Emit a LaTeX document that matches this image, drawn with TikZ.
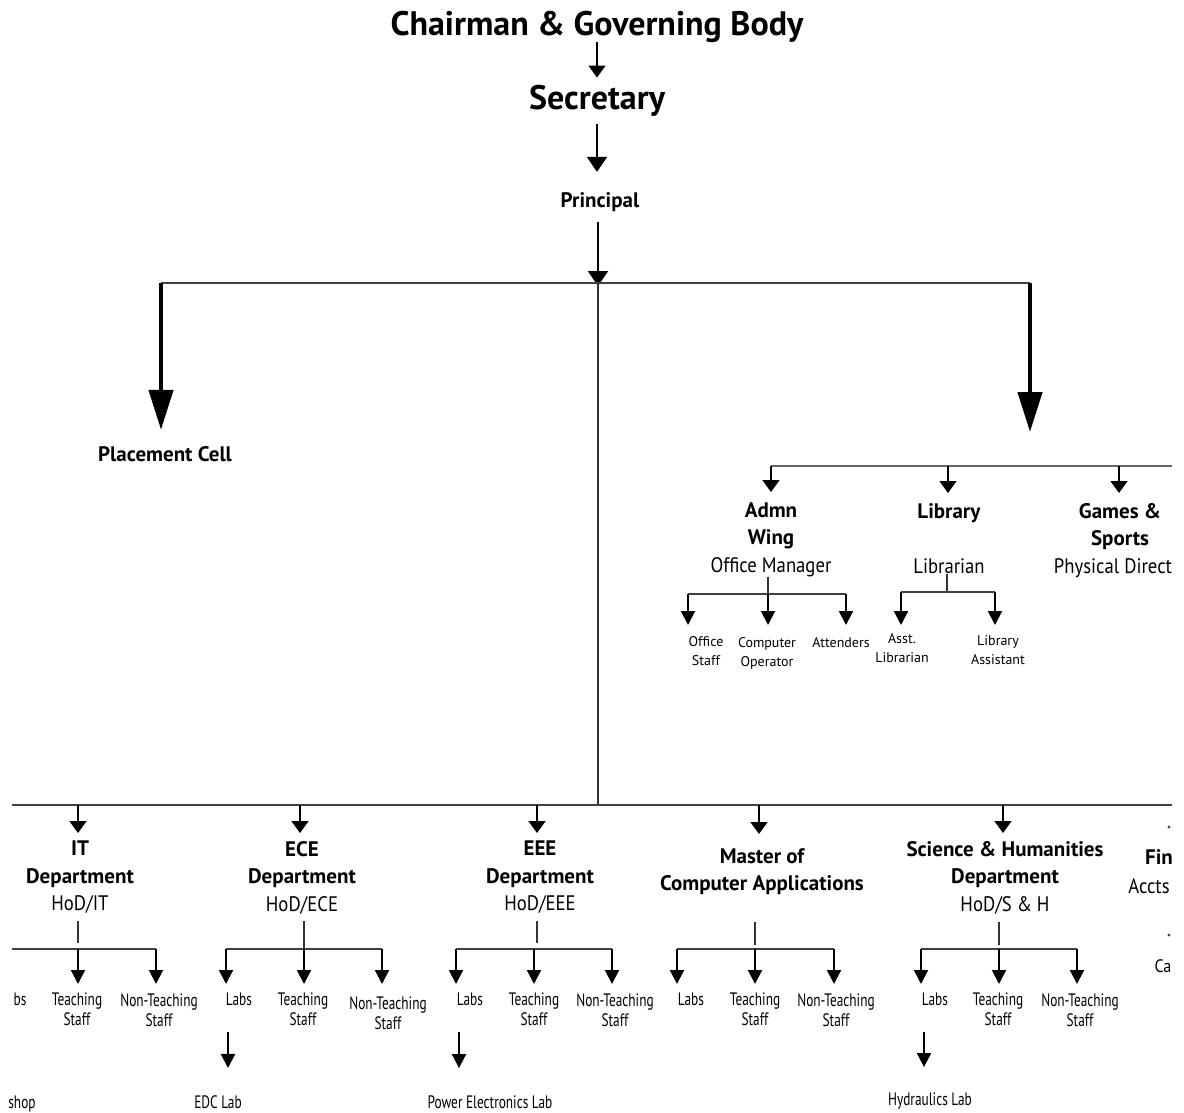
\documentclass[tikz,border=0pt]{standalone}
\usepackage{fontspec}
\setmainfont{PT Sans}
\newfontfamily\narrowsf[FakeStretch=0.74]{PT Sans}
\newfontfamily\regsf[FakeStretch=0.89]{PT Sans}
\usetikzlibrary{arrows.meta}
\begin{document}
\begin{tikzpicture}[x=1pt,y=-1pt,
  every node/.style={inner sep=0pt, align=center, text=black},
  ttl/.style={font=\fontsize{34}{38}\selectfont\bfseries},
  hd/.style={font=\fontsize{21}{27.5}\selectfont},
  bhd/.style={font=\fontsize{21}{27.5}\selectfont\bfseries},
  sm/.style={font=\fontsize{14}{19}\selectfont},
  nar/.style={font=\fontsize{18}{20}\selectfont\narrowsf},
  bus/.style={line width=2pt, draw=black!75},
  thin/.style={line width=1.2pt, draw=black!80},
  arrS/.style={line width=1.5pt, -{Triangle[width=17pt,length=12pt]}},
  arrM/.style={line width=2pt, -{Triangle[width=20pt,length=15pt]}},
  arrT/.style={line width=2pt, -{Triangle[width=14pt,length=14pt]}},
  arrL/.style={line width=4.5pt, -{Triangle[width=24pt,length=40pt]}},
]
\useasboundingbox (0,0) rectangle (1184,1112);
\clip (0,0) rectangle (1184,1112);

% ---- top chain
\node[ttl, anchor=base] (chair) at (597,35) {Chairman \& Governing Body};
\node[ttl, anchor=base] (sec) at (597,109) {Secretary};
\node[bhd, anchor=base] (prin) at (600,207) {Principal};
\draw[arrS, shorten >=7pt] (chair.south) -- (chair.south |- sec.north);
\draw[arrM, shorten <=8pt, shorten >=20pt] (sec.south) -- (sec.south |- prin.north);

\coordinate (pb) at (598,283);
\coordinate (bl) at (161,283);
\coordinate (br) at (1030,283);
\coordinate (rtip) at (1030,432);
\coordinate (lb) at (598,805);
\draw[arrM, shorten <=11pt, shorten >=-3pt] (prin.south -| pb) -- (pb);
\draw[bus] (bl) -- (br);
\draw[thin] (pb) -- (lb);

\node[bhd, anchor=base] (place) at (165,461) {Placement Cell};
\draw[arrL, shorten >=16pt] (bl) -- (bl |- place.north);
\draw[arrL] (br) -- (rtip);

% ---- right branch
\coordinate (ra) at (771,466);
\coordinate (rb) at (948,466);
\coordinate (rc) at (1119,466);
\coordinate (re) at (1172,466);
\draw[bus, draw=black!60] (ra) -- (re);

\node[hd, anchor=north] (admn) at (771,502) {\textbf{Admn}\\\textbf{Wing}\\{\regsf Office Manager}};
\node[hd, anchor=north] (lib) at (949,503) {\textbf{Library}\\[27.5pt]{\regsf Librarian}};
\node[bhd, anchor=north] (games) at (1120,503) {Games \&\\Sports};
\node[hd, anchor=base, font=\fontsize{21}{27.5}\selectfont\regsf] (phys) at (1113,573) {Physical Direct};
\draw[arrS, shorten >=10pt] (ra) -- (ra |- admn.north);
\draw[arrS, shorten >=10pt] (rb) -- (rb |- lib.north);
\draw[arrS, shorten >=10pt] (rc) -- (rc |- games.north);

\coordinate (oa) at (688,594);
\coordinate (ob) at (768,594);
\coordinate (oc) at (846,594);
\draw[thin] (admn.south -| ob) -- (ob);
\draw[bus] (oa) -- (oc);
\node[sm, anchor=north] (ost) at (706,636) {Office\\Staff};
\node[sm, anchor=north] (cop) at (767,637) {Computer\\Operator};
\node[sm, anchor=north] (att) at (841,637) {Attenders};
\draw[arrT, shorten >=11pt] (oa) -- (oa |- ost.north);
\draw[arrT, shorten >=12pt] (ob) -- (ob |- cop.north);
\draw[arrT, shorten >=12pt] (oc) -- (oc |- att.north);

\coordinate (la) at (901,592);
\coordinate (lm) at (947,592);
\coordinate (lc) at (995,592);
\draw[thin] (lib.south -| lm) -- (lm);
\draw[bus] (la) -- (lc);
\node[sm, anchor=north] (asst) at (902,633) {Asst.\\Librarian};
\node[sm, anchor=north] (lass) at (998,635) {Library\\Assistant};
\draw[arrT, shorten >=8pt] (la) -- (la |- asst.north);
\draw[arrT, shorten >=10pt] (lc) -- (lc |- lass.north);

% ---- bottom bus
\coordinate (bL) at (12,805);
\coordinate (bR) at (1172,805);
\coordinate (d1) at (78,805);
\coordinate (d2) at (300,805);
\coordinate (d3) at (537,805);
\coordinate (d4) at (759,805);
\coordinate (d5) at (1003,805);
\draw[bus] (bL) -- (bR);

\node[hd, anchor=north] (it) at (80,841) {\textbf{IT}\\\textbf{Department}\\{\regsf HoD/IT}};
\node[hd, anchor=north] (ece) at (302,841) {\textbf{ECE}\\\textbf{Department}\\{\regsf HoD/ECE}};
\node[hd, anchor=north] (eee) at (540,841) {\textbf{EEE}\\\textbf{Department}\\{\regsf HoD/EEE}};
\node[bhd, anchor=north] (mca) at (762,848) {Master of\\Computer Applications};
\node[hd, anchor=north] (sh) at (1005,841) {\textbf{Science \& Humanities}\\\textbf{Department}\\{\regsf HoD/S \& H}};
\draw[arrS, shorten >=8pt] (d1) -- (d1 |- it.north);
\draw[arrS, shorten >=8pt] (d2) -- (d2 |- ece.north);
\draw[arrS, shorten >=8pt] (d3) -- (d3 |- eee.north);
\draw[arrS, shorten >=14pt] (d4) -- (d4 |- mca.north);
\draw[arrS, shorten >=8pt] (d5) -- (d5 |- sh.north);

% sub buses
\coordinate (i0) at (12,949);  \coordinate (i1) at (78,949);  \coordinate (i2) at (156,949);
\coordinate (e1) at (226,949); \coordinate (e2) at (304,949); \coordinate (e3) at (382,949);
\coordinate (f1) at (456,949); \coordinate (f2) at (534,949); \coordinate (f3) at (612,949);
\coordinate (fs) at (537,949);
\coordinate (g1) at (677,949); \coordinate (g2) at (755,949); \coordinate (g3) at (834,949);
\coordinate (h1) at (921,949); \coordinate (h2) at (999,949); \coordinate (h3) at (1077,949);

\draw[thin, shorten <=7pt, shorten >=6pt] (it.south -| i1) -- (i1);
\draw[thin, shorten <=7pt] (ece.south -| e2) -- (e2);
\draw[thin, shorten <=7pt, shorten >=6pt] (eee.south -| fs) -- (fs);
\draw[thin, shorten <=27pt, shorten >=4pt] (mca.south -| g2) -- (g2);
\draw[thin, shorten <=8pt, shorten >=4pt] (sh.south -| h2) -- (h2);
\draw[bus] (i0) -- (i2);
\draw[bus] (e1) -- (e3);
\draw[bus] (f1) -- (f3);
\draw[bus] (g1) -- (g3);
\draw[bus] (h1) -- (h3);

% staff labels
\node[nar, anchor=north] (itl) at (20,993) {bs};
\node[nar, anchor=north] (itt) at (77,993) {Teaching\\Staff};
\node[nar, anchor=north] (itn) at (159,993) {Non-Teaching\\Staff};
\node[nar, anchor=north] (ecl) at (239,993) {Labs};
\node[nar, anchor=north] (ect) at (303,993) {Teaching\\Staff};
\node[nar, anchor=north] (ecn) at (388,996) {Non-Teaching\\Staff};
\node[nar, anchor=north] (eel) at (470,993) {Labs};
\node[nar, anchor=north] (eet) at (534,993) {Teaching\\Staff};
\node[nar, anchor=north] (een) at (615,993) {Non-Teaching\\Staff};
\node[nar, anchor=north] (mcl) at (691,993) {Labs};
\node[nar, anchor=north] (mct) at (755,993) {Teaching\\Staff};
\node[nar, anchor=north] (mcn) at (836,993) {Non-Teaching\\Staff};
\node[nar, anchor=north] (shl) at (935,993) {Labs};
\node[nar, anchor=north] (sht) at (998,993) {Teaching\\Staff};
\node[nar, anchor=north] (shn) at (1080,993) {Non-Teaching\\Staff};

\draw[arrT, shorten >=9pt] (i1) -- (i1 |- itt.north);
\draw[arrT, shorten >=9pt] (i2) -- (i2 |- itn.north);
\draw[arrT, shorten >=9pt] (e1) -- (e1 |- ecl.north);
\draw[arrT, shorten >=9pt] (e2) -- (e2 |- ect.north);
\draw[arrT, shorten >=12pt] (e3) -- (e3 |- ecn.north);
\draw[arrT, shorten >=9pt] (f1) -- (f1 |- eel.north);
\draw[arrT, shorten >=9pt] (f2) -- (f2 |- eet.north);
\draw[arrT, shorten >=9pt] (f3) -- (f3 |- een.north);
\draw[arrT, shorten >=9pt] (g1) -- (g1 |- mcl.north);
\draw[arrT, shorten >=9pt] (g2) -- (g2 |- mct.north);
\draw[arrT, shorten >=9pt] (g3) -- (g3 |- mcn.north);
\draw[arrT, shorten >=9pt] (h1) -- (h1 |- shl.north);
\draw[arrT, shorten >=9pt] (h2) -- (h2 |- sht.north);
\draw[arrT, shorten >=9pt] (h3) -- (h3 |- shn.north);

% lab rows
\node[nar, anchor=base] (wsh) at (22,1108) {shop};
\node[nar, anchor=base] (edc) at (218,1108) {EDC Lab};
\node[nar, anchor=base] (pel) at (490,1108) {Power Electronics Lab};
\node[nar, anchor=base] (hyd) at (930,1105) {Hydraulics Lab};
\coordinate (ecx) at (228,949);
\coordinate (eex) at (459,949);
\coordinate (shx) at (924,949);
\draw[arrT, shorten <=26pt, shorten >=27pt] (ecx |- ecl.south) -- (ecx |- edc.north);
\draw[arrT, shorten <=26pt, shorten >=27pt] (eex |- eel.south) -- (eex |- pel.north);
\draw[arrT, shorten <=26pt, shorten >=25pt] (shx |- shl.south) -- (shx |- hyd.north);

% right edge fragments
\node[circle, fill=black!70, inner sep=1.2pt] (dot1) at (1169,827) {};
\node[circle, fill=black!70, inner sep=1.2pt] (dot2) at (1169,935) {};
\node[bhd, anchor=base] (fin) at (1159,864) {Fin};
\node[hd, anchor=base, font=\fontsize{21}{27.5}\selectfont\regsf] (accts) at (1149,893) {Accts};
\node[hd, anchor=base, font=\fontsize{18}{20}\selectfont\regsf] (ca) at (1163,972) {Ca};
\end{tikzpicture}
\end{document}
